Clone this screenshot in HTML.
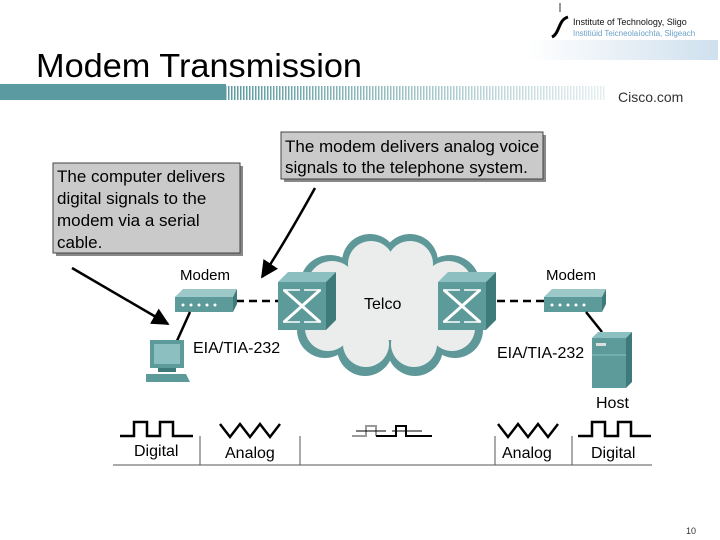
<!DOCTYPE html>
<html><head><meta charset="utf-8"><style>
html,body{margin:0;padding:0;background:#fff;}
svg{display:block;font-family:"Liberation Sans",sans-serif;}
</style></head><body>
<svg width="720" height="540" viewBox="0 0 720 540" xmlns="http://www.w3.org/2000/svg">
<defs>
<pattern id="hatch" width="3" height="16" patternUnits="userSpaceOnUse"><rect width="1.5" height="16" fill="#5a9aa0"/></pattern>
<linearGradient id="fade" x1="0" x2="1"><stop offset="0" stop-color="#fff" stop-opacity="0"/><stop offset="1" stop-color="#fff" stop-opacity="0.85"/></linearGradient>
<linearGradient id="logo" x1="0" x2="1"><stop offset="0" stop-color="#fff"/><stop offset="1" stop-color="#cfe0ee"/></linearGradient>
<marker id="ah" viewBox="0 0 10 10" refX="9" refY="5" markerWidth="7" markerHeight="7" orient="auto"><path d="M0,0 L10,5 L0,10 z" fill="#000"/></marker>
</defs>
<!-- logo -->
<rect x="528" y="40" width="190" height="20" fill="url(#logo)"/>
<line x1="560" y1="3" x2="560" y2="12" stroke="#333" stroke-width="1"/>
<path d="M552,37 C560,33 558,20 568,17" stroke="#000" stroke-width="3" fill="none"/>
<text x="573" y="25" font-size="9" fill="#111">Institute of Technology, Sligo</text>
<text x="573" y="36" font-size="8" fill="#6aa0c8">Institiúid Teicneolaíochta, Sligeach</text>
<!-- title -->
<text x="36" y="77" font-size="33" fill="#000" textLength="326" lengthAdjust="spacingAndGlyphs">Modem Transmission</text>
<rect x="0" y="84" width="226" height="16" fill="#5a9aa0"/>
<rect x="226" y="86" width="380" height="14" fill="url(#hatch)"/>
<rect x="226" y="86" width="380" height="14" fill="url(#fade)"/>
<text x="618" y="102" font-size="14" fill="#333">Cisco.com</text>
<!-- callout boxes -->
<rect x="56" y="166" width="187" height="90" fill="#888"/>
<rect x="53" y="163" width="187" height="90" fill="#cacaca" stroke="#444" stroke-width="1"/>
<g font-size="17" fill="#000">
<text x="57" y="182">The computer delivers</text>
<text x="57" y="204">digital signals to the</text>
<text x="57" y="226">modem via a serial</text>
<text x="57" y="248">cable.</text>
</g>
<rect x="284" y="135" width="262" height="47" fill="#888"/>
<rect x="281" y="132" width="262" height="47" fill="#cacaca" stroke="#444" stroke-width="1"/>
<g font-size="17" fill="#000">
<text x="285" y="152">The modem delivers analog voice</text>
<text x="285" y="173">signals to the telephone system.</text>
</g>
<!-- arrows -->
<path d="M72,268 C110,290 140,308 168,324" stroke="#000" stroke-width="2.5" fill="none" marker-end="url(#ah)"/>
<path d="M315,188 C300,215 280,250 262,277" stroke="#000" stroke-width="2.5" fill="none" marker-end="url(#ah)"/>
<!-- cloud -->
<g fill="#5f9898">
<circle cx="330" cy="285" r="30"/><circle cx="370" cy="262" r="28"/><circle cx="410" cy="262" r="28"/><circle cx="450" cy="285" r="30"/>
<circle cx="325" cy="330" r="28"/><circle cx="365" cy="348" r="28"/><circle cx="415" cy="348" r="28"/><circle cx="455" cy="330" r="28"/>
<rect x="320" y="270" width="140" height="80"/>
</g>
<g fill="#ebeded">
<circle cx="332" cy="286" r="25"/><circle cx="371" cy="264" r="23"/><circle cx="410" cy="264" r="23"/><circle cx="448" cy="286" r="25"/>
<circle cx="328" cy="328" r="23"/><circle cx="366" cy="344" r="23"/><circle cx="414" cy="344" r="23"/><circle cx="452" cy="328" r="23"/>
<rect x="315" y="270" width="150" height="70"/>
</g>
<text x="364" y="309" font-size="16">Telco</text>
<!-- dashed lines -->
<line x1="236" y1="301" x2="278" y2="301" stroke="#000" stroke-width="2.5" stroke-dasharray="8,5"/>
<line x1="497" y1="301" x2="545" y2="301" stroke="#000" stroke-width="2.5" stroke-dasharray="8,5"/>
<!-- switches -->
<g id="sw">
<polygon points="278,282 288,272 336,272 326,282" fill="#8cc0c0"/>
<polygon points="326,282 336,272 336,320 326,330" fill="#3e7a7a"/>
<rect x="278" y="282" width="48" height="48" fill="#5d9a9a"/>
<path d="M284,290 L320,322 M320,290 L284,322" stroke="#fff" stroke-width="3"/>
<path d="M283,290 L300,290 M304,290 L321,290 M283,322 L300,322 M304,322 L321,322" stroke="#fff" stroke-width="1.5"/>
</g>
<use href="#sw" x="160"/>
<!-- modems -->
<g id="md">
<polygon points="175,297 183,289 237,289 233,297" fill="#9cc8c8"/>
<polygon points="233,297 237,289 237,304 233,312" fill="#3e7a7a"/>
<rect x="175" y="297" width="58" height="15" fill="#5d9a9a"/>
<g fill="#fff"><circle cx="183" cy="305" r="1.5"/><circle cx="191" cy="305" r="1.5"/><circle cx="199" cy="305" r="1.5"/><circle cx="207" cy="305" r="1.5"/><circle cx="215" cy="305" r="1.5"/></g>
</g>
<use href="#md" x="369" y="0"/>
<text x="180" y="280" font-size="15">Modem</text>
<text x="546" y="280" font-size="15">Modem</text>
<!-- serial cables -->
<line x1="190" y1="312" x2="176" y2="343" stroke="#000" stroke-width="2.5"/>
<line x1="586" y1="312" x2="602" y2="332" stroke="#000" stroke-width="2.5"/>
<!-- PC -->
<rect x="150" y="340" width="34" height="28" fill="#5d9a9a"/>
<rect x="154" y="344" width="26" height="20" fill="#8cc0c0"/>
<rect x="158" y="368" width="18" height="4" fill="#3e7a7a"/>
<polygon points="146,374 186,374 190,382 146,382" fill="#5d9a9a"/>
<text x="193" y="353" font-size="16">EIA/TIA-232</text>
<!-- host -->
<polygon points="592,338 598,332 632,332 626,338" fill="#8cc0c0"/>
<polygon points="626,338 632,332 632,382 626,388" fill="#3e7a7a"/>
<rect x="592" y="338" width="34" height="50" fill="#5d9a9a"/>
<rect x="596" y="343" width="10" height="3" fill="#ddd"/>
<line x1="592" y1="355" x2="626" y2="355" stroke="#8cc0c0"/>
<text x="497" y="358" font-size="16">EIA/TIA-232</text>
<text x="596" y="408" font-size="16">Host</text>
<!-- signals -->
<g stroke="#000" stroke-width="2.5" fill="none">
<path d="M120,436 L134,436 L134,422 L147,422 L147,436 L160,436 L160,422 L173,422 L173,436 L193,436"/>
<path d="M220,424 L230,437 L240,424 L250,437 L260,424 L270,437 L280,424"/>
<path d="M498,424 L508,437 L518,424 L528,437 L538,424 L548,437 L558,424"/>
<path d="M578,436 L592,436 L592,422 L605,422 L605,436 L618,436 L618,422 L631,422 L631,436 L651,436"/>
</g>
<g stroke="#999" stroke-width="2" fill="none"><path d="M352,436 L366,436 L366,426 L376,426 L376,436"/></g>
<g stroke="#000" stroke-width="2" fill="none"><path d="M376,436 L396,436 L396,426 L406,426 L406,436 L432,436"/></g>
<g stroke="#000" stroke-width="1"><line x1="356" y1="431" x2="386" y2="431"/><line x1="392" y1="431" x2="422" y2="431"/></g>
<g stroke="#555" stroke-width="1">
<line x1="113" y1="465" x2="652" y2="465"/>
<line x1="200" y1="436" x2="200" y2="465"/><line x1="300" y1="436" x2="300" y2="465"/>
<line x1="495" y1="436" x2="495" y2="465"/><line x1="572" y1="436" x2="572" y2="465"/>
</g>
<g font-size="16" fill="#000">
<text x="134" y="456">Digital</text><text x="225" y="458">Analog</text>
<text x="502" y="458">Analog</text><text x="591" y="458">Digital</text>
</g>
<text x="686" y="534" font-size="9" fill="#333">10</text>
</svg>
</body></html>
